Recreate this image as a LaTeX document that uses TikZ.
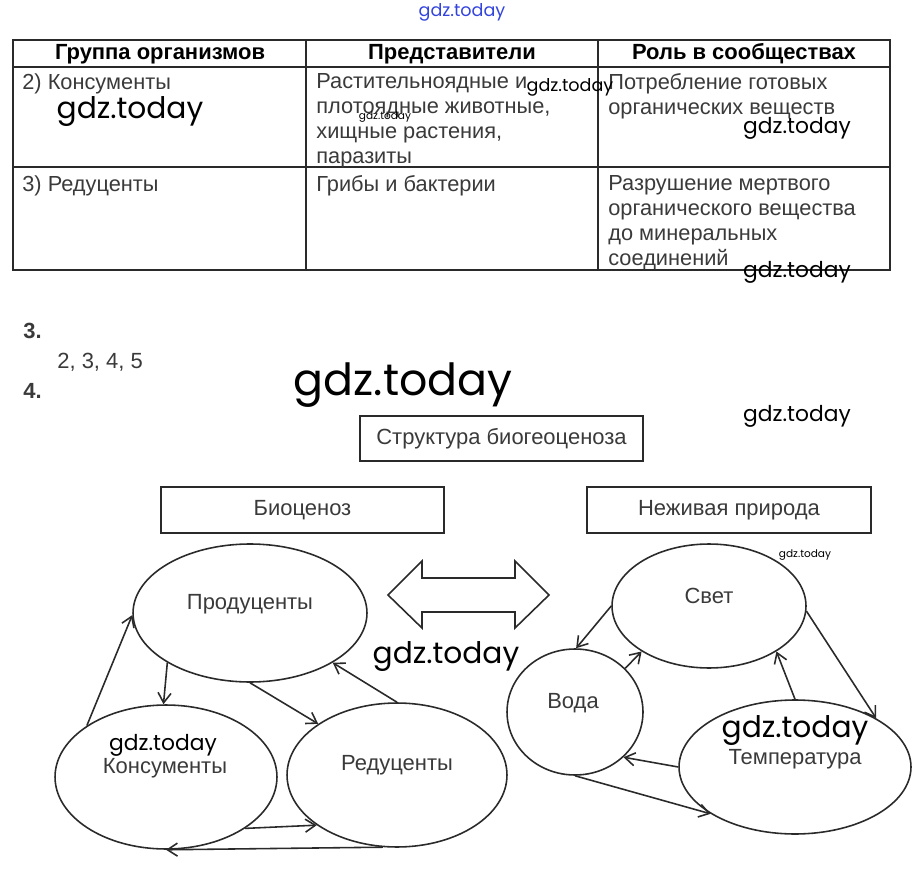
\documentclass[tikz,border=0pt]{standalone}
\usepackage{fontspec}
\setmainfont{Liberation Sans}
\newfontfamily\wmfont{Poppins}
\usetikzlibrary{shapes.geometric,arrows.meta}

\definecolor{txtgray}{HTML}{3A3A3A}
\definecolor{linegray}{HTML}{2A2A2A}
\definecolor{wmblue}{HTML}{3344DD}

\tikzset{
  oval/.style={draw=linegray, ellipse, line width=0.9pt, inner sep=0pt},
  titlebox/.style={draw=linegray, line width=1.2pt, inner sep=0pt, text=txtgray,
    font=\fontsize{12.5}{14}\selectfont},
  cell/.style={anchor=north west, inner sep=0pt, align=left, text=txtgray,
    font=\fontsize{12.4}{14.2}\selectfont},
  head/.style={inner sep=0pt, font=\bfseries\fontsize{12.5}{14}\selectfont},
  lbl/.style={inner sep=0pt, text=txtgray, font=\fontsize{12.5}{14}\selectfont},
  link/.style={-{Straight Barb[length=2mm,width=2.6mm]}, line width=0.9pt, draw=linegray},
  tabline/.style={line width=0.8pt, draw=linegray},
  wm/.style={inner sep=0pt, font=\wmfont}
}

\begin{document}
\begin{tikzpicture}[x=0.02cm, y=-0.02cm]
	\useasboundingbox (0,0) rectangle (922,874);
	% table
	\draw[tabline] (13,40) rectangle (890,270);
	\draw[tabline] (13,67) -- (890,67);
	\draw[tabline] (13,167) -- (890,167);
	\draw[tabline] (306,40) -- (306,270);
	\draw[tabline] (598,40) -- (598,270);
	\node[head] (h1) at (160,54) {Группа организмов};
	\node[head] (h2) at (452,54) {Представители};
	\node[head] (h3) at (744,54) {Роль в сообществах};
	\node[cell] (k1) at (22,73) {2) Консументы};
	\node[cell] (k2) at (316,73) {Растительноядные и\\плотоядные животные,\\хищные растения,\\паразиты};
	\node[cell] (k3) at (608,73) {Потребление готовых\\органических веществ};
	\node[cell] (r1) at (22,175) {3) Редуценты};
	\node[cell] (r2) at (316,175) {Грибы и бактерии};
	\node[cell] (r3) at (608,175) {Разрушение мертвого\\органического вещества\\до минеральных\\соединений};
	% answers
	\node[head, anchor=west, text=txtgray] (n3) at (23,331) {3.};
	\node[lbl, anchor=west] (ans3) at (57,362) {2, 3, 4, 5};
	\node[head, anchor=west, text=txtgray] (n4) at (23,391) {4.};
	% scheme
	\node[titlebox, minimum width=5.66cm, minimum height=0.9cm] (struct) at (501.5,438.5) {Структура биогеоценоза};
	\node[titlebox, minimum width=5.66cm, minimum height=0.92cm] (bio) at (302.5,510) {Биоценоз};
	\node[titlebox, minimum width=5.68cm, minimum height=0.92cm] (nezh) at (729,510) {Неживая природа};

	\node[oval, minimum width=4.68cm, minimum height=2.76cm] (prod) at (250,613) {};
	\node[oval, minimum width=4.44cm, minimum height=2.88cm] (kons) at (166,777) {};
	\node[oval, minimum width=4.40cm, minimum height=2.88cm] (red) at (397,775) {};
	\node[oval, minimum width=3.88cm, minimum height=2.48cm] (svet) at (709,606) {};
	\node[oval, minimum width=2.72cm, minimum height=2.52cm] (voda) at (575,712) {};
	\node[oval, minimum width=4.64cm, minimum height=2.68cm] (temp) at (795,767) {};
	\node[lbl] (prodtxt) at (250,604) {Продуценты};
	\node[lbl] (konstxt) at (165,768) {Консументы};
	\node[lbl] (redtxt) at (397,765) {Редуценты};
	\node[lbl] (svettxt) at (709,596) {Свет};
	\node[lbl] (vodatxt) at (573,703) {Вода};
	\node[lbl] (temptxt) at (795,759) {Температура};

	% double arrow between the two parts
	\draw[line width=0.9pt, draw=linegray] (388,595) -- (422,561) -- (422,578) -- (515,578) -- (515,561)
		-- (549,595) -- (515,628) -- (515,612) -- (422,612) -- (422,628) -- cycle;

	% links
	\draw[link] (kons.147) -- (prod.181);
	\draw[link] (prod.211) -- (kons.92);
	\draw[link] (prod.270) -- (red.147);
	\draw[link] (red.90) -- (prod.329);
	\draw[link] (kons.327) -- (red.212);
	\draw[link] (red.259) -- (kons.270);
	\draw[link] (svet.180) -- (voda.89);
	\draw[link] (voda.41) -- (svet.214);
	\draw[link] (svet.357) -- (temp.31);
	\draw[link] (temp.90) -- (svet.326);
	\draw[link] (temp.180) -- (voda.317);
	\draw[link] (voda.270) -- (temp.209);

	% watermarks
	\node[wm, text=wmblue, font=\wmfont\fontsize{10}{12}\selectfont] (wm0) at (462,12) {gdz.today};
	\node[wm, font=\wmfont\fontsize{16.9}{20}\selectfont] (wm1) at (130,112) {gdz.today};
	\node[wm, font=\wmfont\fontsize{10}{12}\selectfont] (wm2) at (570,87) {gdz.today};
	\node[wm, font=\wmfont\fontsize{6}{7}\selectfont] (wm3) at (385,117) {gdz.today};
	\node[wm, font=\wmfont\fontsize{12.4}{15}\selectfont] (wm4) at (797,128) {gdz.today};
	\node[wm, font=\wmfont\fontsize{12.4}{15}\selectfont] (wm5) at (797,272) {gdz.today};
	\node[wm, font=\wmfont\fontsize{25.2}{30}\selectfont] (wm6) at (403,385) {gdz.today};
	\node[wm, font=\wmfont\fontsize{12.4}{15}\selectfont] (wm7) at (797,416) {gdz.today};
	\node[wm, font=\wmfont\fontsize{6}{7}\selectfont] (wm8) at (805,555) {gdz.today};
	\node[wm, font=\wmfont\fontsize{16.9}{20}\selectfont] (wm9) at (446,657) {gdz.today};
	\node[wm, font=\wmfont\fontsize{12.4}{15}\selectfont] (wm10) at (163,745) {gdz.today};
	\node[wm, font=\wmfont\fontsize{16.9}{20}\selectfont] (wm11) at (795,731) {gdz.today};
\end{tikzpicture}
\end{document}
